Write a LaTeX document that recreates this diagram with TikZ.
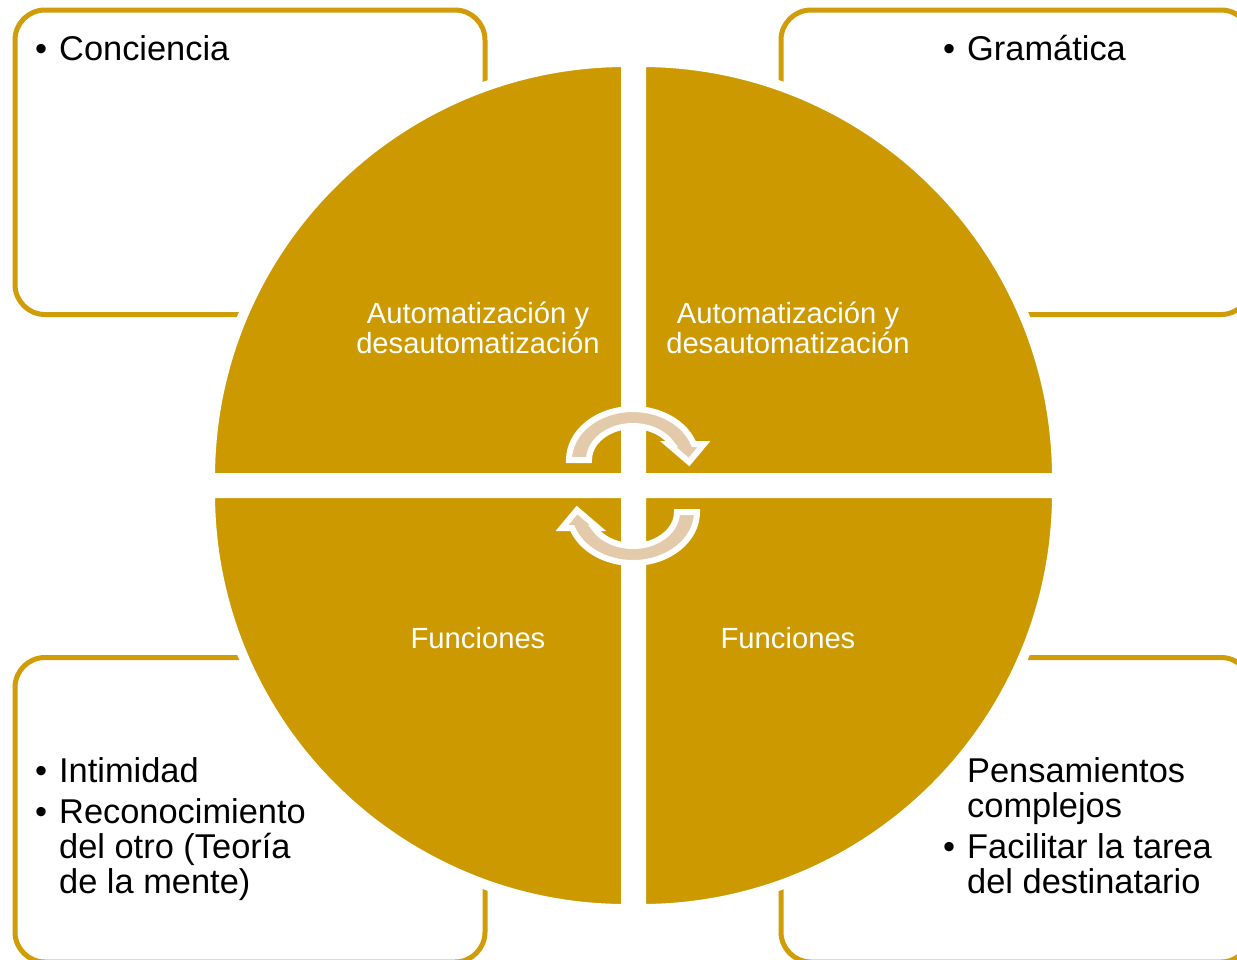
\documentclass[tikz,border=0pt]{standalone}
\usepackage{fontspec}
\setmainfont{Liberation Sans}
\definecolor{gold}{RGB}{204,153,0}
\definecolor{framegold}{RGB}{208,157,8}
\definecolor{cyctan}{RGB}{227,202,170}
\newcommand\bul{\llap{•\hspace{12pt}}}
\begin{document}
\begin{tikzpicture}[x=1pt,y=-1pt,
  frame/.style={draw=framegold, line width=5pt, rounded corners=30pt},
  quad/.style={fill=gold, draw=white, line width=10pt},
  boxtxt/.style={anchor=base west, inner sep=0pt, font=\fontsize{34.4}{35}\selectfont, text=black},
  qtxt/.style={anchor=base, inner sep=0pt, font=\fontsize{29.2}{30}\selectfont, text=white},
  cyc/.style={fill=cyctan, draw=white, line width=6pt, line join=miter}]
\clip (0,0) rectangle (1237,959);
\fill[white] (0,0) rectangle (1237,959);
% frames
\draw[frame] (15,10) rectangle (485,314.5);
\draw[frame] (781,10) rectangle (1251,314.5);
\draw[frame] (15,657.5) rectangle (485,962);
\draw[frame] (781,657.5) rectangle (1251,962);
% frame texts
\node[boxtxt] (c1) at (59,60) {\bul Conciencia};
\node[boxtxt] (g1) at (967,60) {\bul Gramática};
\node[boxtxt] (i1) at (59,782) {\bul Intimidad};
\node[boxtxt] (r1) at (59,823) {\bul Reconocimiento};
\node[boxtxt] (r2) at (59,858) {del otro (Teoría};
\node[boxtxt] (r3) at (59,893) {de la mente)};
\node[boxtxt] (p1) at (967,782) {\bul Pensamientos};
\node[boxtxt] (p2) at (967,817) {complejos};
\node[boxtxt] (f1) at (967,858) {\bul Facilitar la tarea};
\node[boxtxt] (f2) at (967,893) {del destinatario};
% quadrants
\draw[quad] (626,478) -- (210,478) arc[start angle=180, end angle=270, radius=416] -- cycle;
\draw[quad] (641,478) -- (1057,478) arc[start angle=0, end angle=-90, radius=416] -- cycle;
\draw[quad] (626,493) -- (210,493) arc[start angle=180, end angle=90, radius=416] -- cycle;
\draw[quad] (641,493) -- (1057,493) arc[start angle=0, end angle=90, radius=416] -- cycle;
% quadrant texts
\node[qtxt] (a1) at (478,323) {Automatización y};
\node[qtxt] (a2) at (478,353) {desautomatización};
\node[qtxt] (b1) at (788,323) {Automatización y};
\node[qtxt] (b2) at (788,353) {desautomatización};
\node[qtxt] (fa) at (478,648) {Funciones};
\node[qtxt] (fb) at (788,648) {Funciones};
% cycle arrows
\begin{scope}[shift={(633,460)}, yscale=-1]
  \draw[cyc] (-64,0) arc[start angle=180, end angle=18.28, x radius=64, y radius=51]
    -- (71,16) -- (56,-2) -- (35,16) -- (38.82,16)
    arc[start angle=28.07, end angle=180, x radius=44, y radius=34] -- cycle;
\end{scope}
\begin{scope}[shift={(633,512)}, xscale=-1]
  \draw[cyc] (-64,0) arc[start angle=180, end angle=18.28, x radius=64, y radius=51]
    -- (71,16) -- (56,-2) -- (35,16) -- (38.82,16)
    arc[start angle=28.07, end angle=180, x radius=44, y radius=34] -- cycle;
\end{scope}
\end{tikzpicture}
\end{document}
